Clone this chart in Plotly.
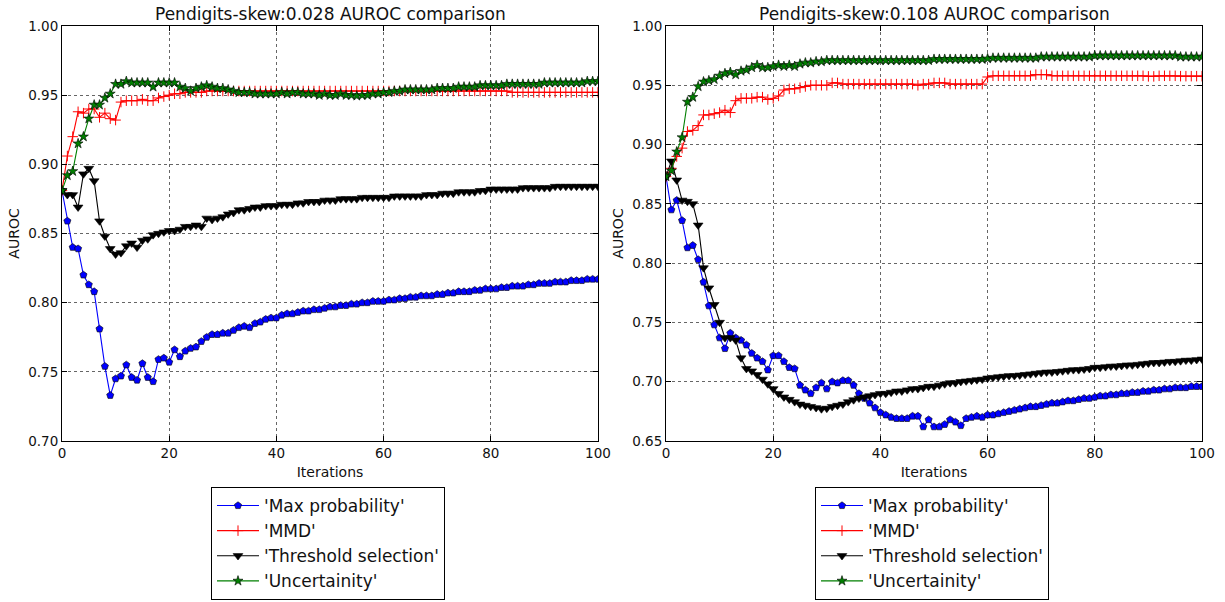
import plotly.graph_objects as go

iterations = list(range(101))

# ---- Left panel: Pendigits-skew:0.028 ----
left_max_prob = [
    0.881, 0.859, 0.840, 0.839, 0.820, 0.813, 0.808, 0.781, 0.754, 0.733,
    0.745, 0.747, 0.755, 0.746, 0.744, 0.756, 0.746, 0.743, 0.759, 0.760,
    0.757, 0.766, 0.761, 0.765, 0.767, 0.768, 0.772, 0.775, 0.777, 0.777,
    0.778, 0.778, 0.780, 0.782, 0.783, 0.782, 0.785, 0.786, 0.788, 0.789,
    0.789, 0.791, 0.792, 0.792, 0.793, 0.794, 0.794, 0.795, 0.795, 0.796,
    0.797, 0.797, 0.798, 0.798, 0.799, 0.799, 0.800, 0.800, 0.801, 0.801,
    0.801, 0.802, 0.802, 0.803, 0.803, 0.804, 0.804, 0.805, 0.805, 0.805,
    0.806, 0.806, 0.807, 0.807, 0.808, 0.808, 0.808, 0.809, 0.809, 0.810,
    0.810, 0.810, 0.811, 0.811, 0.812, 0.812, 0.812, 0.813, 0.813, 0.814,
    0.814, 0.814, 0.815, 0.815, 0.815, 0.816, 0.816, 0.816, 0.817, 0.817,
    0.817]
left_mmd = [
    0.881, 0.906, 0.920, 0.938, 0.937, 0.940, 0.940, 0.934, 0.937, 0.933,
    0.932, 0.945, 0.946, 0.946, 0.946, 0.947, 0.946, 0.946, 0.948, 0.949,
    0.950, 0.951, 0.951, 0.952, 0.952, 0.952, 0.952, 0.953, 0.953, 0.953,
    0.953, 0.953, 0.953, 0.953, 0.953, 0.953, 0.953, 0.953, 0.953, 0.953,
    0.953, 0.953, 0.953, 0.953, 0.953, 0.953, 0.953, 0.953, 0.953, 0.953,
    0.953, 0.953, 0.953, 0.953, 0.953, 0.953, 0.953, 0.953, 0.953, 0.953,
    0.953, 0.953, 0.953, 0.953, 0.953, 0.953, 0.953, 0.953, 0.953, 0.953,
    0.953, 0.953, 0.953, 0.953, 0.953, 0.953, 0.953, 0.953, 0.953, 0.953,
    0.953, 0.953, 0.953, 0.953, 0.952, 0.952, 0.952, 0.952, 0.952, 0.952,
    0.952, 0.952, 0.952, 0.952, 0.952, 0.952, 0.952, 0.952, 0.952, 0.952,
    0.952]
left_threshold = [
    0.881, 0.878, 0.878, 0.869, 0.893, 0.897, 0.888, 0.859, 0.848, 0.839,
    0.835, 0.836, 0.841, 0.843, 0.840, 0.845, 0.846, 0.849, 0.850, 0.851,
    0.852, 0.852, 0.853, 0.855, 0.855, 0.856, 0.855, 0.861, 0.860, 0.861,
    0.862, 0.864, 0.865, 0.867, 0.867, 0.868, 0.869, 0.869, 0.870, 0.870,
    0.870, 0.871, 0.871, 0.871, 0.872, 0.872, 0.873, 0.873, 0.873, 0.874,
    0.874, 0.874, 0.875, 0.875, 0.875, 0.875, 0.876, 0.876, 0.876, 0.876,
    0.876, 0.876, 0.877, 0.877, 0.877, 0.877, 0.877, 0.877, 0.878, 0.878,
    0.878, 0.879, 0.879, 0.879, 0.880, 0.880, 0.880, 0.880, 0.881, 0.881,
    0.882, 0.882, 0.882, 0.882, 0.882, 0.882, 0.883, 0.883, 0.883, 0.883,
    0.883, 0.883, 0.884, 0.884, 0.884, 0.884, 0.884, 0.884, 0.884, 0.884,
    0.884]
left_uncertainty = [
    0.881, 0.892, 0.895, 0.915, 0.920, 0.933, 0.943, 0.943, 0.948, 0.951,
    0.958, 0.958, 0.960, 0.959, 0.959, 0.959, 0.959, 0.956, 0.959, 0.959,
    0.959, 0.959, 0.956, 0.955, 0.953, 0.955, 0.956, 0.957, 0.956, 0.955,
    0.955, 0.954, 0.953, 0.952, 0.952, 0.952, 0.951, 0.951, 0.951, 0.951,
    0.951, 0.952, 0.951, 0.952, 0.952, 0.951, 0.951, 0.951, 0.950, 0.951,
    0.950, 0.950, 0.951, 0.950, 0.950, 0.9495, 0.950, 0.950, 0.951, 0.951,
    0.952, 0.952, 0.953, 0.953, 0.954, 0.954, 0.954, 0.954, 0.954, 0.954,
    0.955, 0.955, 0.955, 0.955, 0.956, 0.956, 0.956, 0.956, 0.957, 0.957,
    0.957, 0.957, 0.957, 0.958, 0.958, 0.958, 0.958, 0.958, 0.958, 0.958,
    0.959, 0.959, 0.959, 0.959, 0.959, 0.959, 0.959, 0.959, 0.960, 0.960,
    0.960]

# ---- Right panel: Pendigits-skew:0.108 ----
right_max_prob = [
    0.873, 0.845, 0.853, 0.836, 0.813, 0.815, 0.803, 0.784, 0.764, 0.748,
    0.737, 0.728, 0.741, 0.737, 0.735, 0.731, 0.724, 0.720, 0.717, 0.710,
    0.722, 0.722, 0.717, 0.712, 0.711, 0.697, 0.693, 0.690, 0.695, 0.699,
    0.694, 0.700, 0.699, 0.701, 0.701, 0.697, 0.690, 0.686, 0.682, 0.678,
    0.674, 0.672, 0.670, 0.669, 0.669, 0.669, 0.671, 0.671, 0.662, 0.668,
    0.662, 0.662, 0.664, 0.668, 0.666, 0.663, 0.669, 0.670, 0.671, 0.670,
    0.672, 0.672, 0.673, 0.674, 0.675, 0.676, 0.677, 0.678, 0.679, 0.679,
    0.680, 0.681, 0.682, 0.682, 0.683, 0.684, 0.684, 0.685, 0.686, 0.686,
    0.687, 0.688, 0.688, 0.689, 0.689, 0.690, 0.690, 0.691, 0.691, 0.692,
    0.692, 0.693, 0.693, 0.694, 0.694, 0.695, 0.695, 0.695, 0.696, 0.696,
    0.696]
right_mmd = [
    0.873, 0.880, 0.890, 0.897, 0.911, 0.912, 0.916, 0.925, 0.925, 0.926,
    0.927, 0.929, 0.927, 0.937, 0.939, 0.939, 0.939, 0.940, 0.940, 0.938,
    0.939, 0.941, 0.946, 0.947, 0.947, 0.948, 0.949, 0.950, 0.950, 0.950,
    0.950, 0.952, 0.952, 0.951, 0.951, 0.951, 0.951, 0.951, 0.951, 0.951,
    0.951, 0.951, 0.951, 0.951, 0.951, 0.951, 0.951, 0.950, 0.951, 0.951,
    0.952, 0.952, 0.952, 0.951, 0.951, 0.951, 0.951, 0.951, 0.951, 0.951,
    0.957, 0.958, 0.958, 0.958, 0.958, 0.958, 0.958, 0.958, 0.958, 0.959,
    0.959, 0.959, 0.958, 0.958, 0.958, 0.958, 0.958, 0.958, 0.958, 0.958,
    0.958, 0.958, 0.958, 0.958, 0.958, 0.958, 0.958, 0.958, 0.958, 0.958,
    0.9575, 0.9575, 0.958, 0.958, 0.958, 0.958, 0.9577, 0.9577, 0.9577, 0.9577,
    0.9577]
right_threshold = [
    0.873, 0.886, 0.870, 0.853, 0.852, 0.850, 0.832, 0.796, 0.779, 0.765,
    0.750, 0.737, 0.737, 0.735, 0.720, 0.711, 0.709, 0.706, 0.702, 0.698,
    0.694, 0.690, 0.687, 0.685, 0.683, 0.681, 0.680, 0.679, 0.678, 0.677,
    0.6775, 0.679, 0.680, 0.681, 0.683, 0.6846, 0.686, 0.687, 0.688, 0.689,
    0.690, 0.690, 0.691, 0.692, 0.692, 0.693, 0.694, 0.694, 0.695, 0.696,
    0.696, 0.697, 0.698, 0.699, 0.699, 0.700, 0.7005, 0.701, 0.7015, 0.702,
    0.703, 0.7035, 0.704, 0.7045, 0.705, 0.705, 0.7055, 0.706, 0.7065, 0.707,
    0.7075, 0.708, 0.708, 0.7085, 0.709, 0.7095, 0.710, 0.710, 0.7105, 0.711,
    0.712, 0.712, 0.7125, 0.713, 0.713, 0.7135, 0.714, 0.714, 0.7145, 0.715,
    0.7155, 0.716, 0.716, 0.7165, 0.717, 0.717, 0.7175, 0.718, 0.718, 0.7185,
    0.719]
right_uncertainty = [
    0.873, 0.878, 0.894, 0.906, 0.936, 0.940, 0.949, 0.953, 0.954, 0.955,
    0.958, 0.960, 0.961, 0.959, 0.962, 0.963, 0.965, 0.967, 0.965, 0.965,
    0.966, 0.967, 0.966, 0.967, 0.966, 0.968, 0.969, 0.969, 0.970, 0.970,
    0.971, 0.971, 0.971, 0.971, 0.971, 0.971, 0.971, 0.971, 0.971, 0.971,
    0.971, 0.971, 0.971, 0.971, 0.971, 0.971, 0.971, 0.971, 0.971, 0.971,
    0.972, 0.972, 0.972, 0.972, 0.972, 0.972, 0.972, 0.972, 0.972, 0.972,
    0.9725, 0.973, 0.973, 0.973, 0.973, 0.973, 0.973, 0.973, 0.973, 0.973,
    0.974, 0.974, 0.974, 0.974, 0.974, 0.974, 0.974, 0.974, 0.974, 0.974,
    0.975, 0.975, 0.975, 0.975, 0.975, 0.975, 0.975, 0.975, 0.975, 0.975,
    0.975, 0.975, 0.975, 0.975, 0.975, 0.975, 0.974, 0.974, 0.974, 0.974,
    0.974]

series_names = ["'Max probability'", "'MMD'", "'Threshold selection'", "'Uncertainity'"]
panel_titles = ["Pendigits-skew:0.028 AUROC comparison", "Pendigits-skew:0.108 AUROC comparison"]
x_ticks = [0, 20, 40, 60, 80, 100]
left_y_ticks = [0.70, 0.75, 0.80, 0.85, 0.90, 0.95, 1.00]
right_y_ticks = [0.65, 0.70, 0.75, 0.80, 0.85, 0.90, 0.95, 1.00]

W, H = 1225, 602
FONT = "DejaVu Sans, Bitstream Vera Sans, sans-serif"

styles = [
    dict(color="#0000ff", symbol="pentagon", size=7.5, lw=0.6),
    dict(color="#ff0000", symbol="cross-thin-open", size=7.5, lw=1),
    dict(color="#000000", symbol="triangle-down", size=8.5, lw=0.6),
    dict(color="#007f00", symbol="star", size=7.5, lw=0.6),
]

fig = go.Figure()
panels = [
    ([left_max_prob, left_mmd, left_threshold, left_uncertainty], "x", "y", "legend"),
    ([right_max_prob, right_mmd, right_threshold, right_uncertainty], "x2", "y2", "legend2"),
]
for data, xa, ya, lg in panels:
    for name, vals, st in zip(series_names, data, styles):
        if st["symbol"].startswith("cross"):
            mline = dict(color="rgba(255,60,60,0.8)", width=1)
        else:
            mline = dict(color="#000000", width=st["lw"])
        fig.add_trace(go.Scatter(
            x=iterations, y=vals, name=name, mode="lines+markers",
            xaxis=xa, yaxis=ya, legend=lg,
            line=dict(color=st["color"], width=1.1),
            marker=dict(symbol=st["symbol"], size=st["size"], color=st["color"], line=mline),
        ))

def px_x(p):
    return p / W

def px_y(p):
    return 1 - p / H

axis_common = dict(
    showline=True, linecolor="black", linewidth=1, mirror="allticks",
    ticks="inside", ticklen=5, tickwidth=1, tickcolor="black",
    showgrid=True, gridcolor="#666666", gridwidth=0.7, griddash="dot",
    zeroline=False, automargin=False,
    tickfont=dict(family=FONT, size=13.5, color="#111111"),
)

fig.update_layout(
    width=W, height=H, margin=dict(l=0, r=0, t=0, b=0, autoexpand=False),
    paper_bgcolor="white", plot_bgcolor="white",
    font=dict(family=FONT, color="#111111"),
    xaxis=dict(domain=[px_x(62), px_x(598)], range=[0, 100], tickvals=x_ticks, anchor="y",
               title=dict(text="Iterations", font=dict(size=14), standoff=6), **axis_common),
    yaxis=dict(domain=[px_y(441), px_y(26)], range=[0.70, 1.00], tickvals=left_y_ticks, tickformat=".2f", anchor="x",
               title=dict(text="AUROC", font=dict(size=14), standoff=5), **axis_common),
    xaxis2=dict(domain=[px_x(666), px_x(1202)], range=[0, 100], tickvals=x_ticks, anchor="y2",
                title=dict(text="Iterations", font=dict(size=14), standoff=6), **axis_common),
    yaxis2=dict(domain=[px_y(441), px_y(26)], range=[0.65, 1.00], tickvals=right_y_ticks, tickformat=".2f", anchor="x2",
                title=dict(text="AUROC", font=dict(size=14), standoff=5), **axis_common),
    legend=dict(x=px_x(211), y=px_y(487), xanchor="left", yanchor="top",
                bordercolor="black", borderwidth=1, bgcolor="white",
                font=dict(family=FONT, size=17, color="#111111"), itemwidth=42),
    legend2=dict(x=px_x(815), y=px_y(487), xanchor="left", yanchor="top",
                 bordercolor="black", borderwidth=1, bgcolor="white",
                 font=dict(family=FONT, size=17, color="#111111"), itemwidth=42),
    annotations=[
        dict(text=panel_titles[0], x=px_x(330), y=px_y(14), xref="paper", yref="paper",
             xanchor="center", yanchor="middle", showarrow=False, font=dict(family=FONT, size=17, color="#111111")),
        dict(text=panel_titles[1], x=px_x(934), y=px_y(14), xref="paper", yref="paper",
             xanchor="center", yanchor="middle", showarrow=False, font=dict(family=FONT, size=17, color="#111111")),
    ],
)

fig.write_html("out.html")
